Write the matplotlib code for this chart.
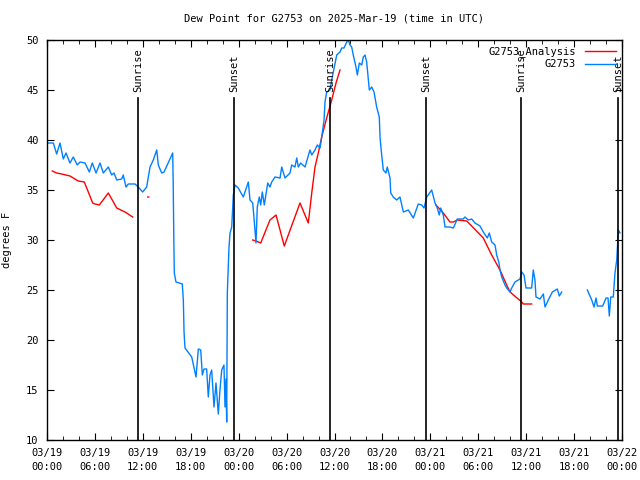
import matplotlib
matplotlib.use("Agg")
from matplotlib import pyplot as plt
from matplotlib.ticker import MultipleLocator
import numpy as np

# hours since 03/19 00:00 UTC, dew point in F
obs_hours = [0.0, 0.79, 1.21, 1.63, 2.04, 2.38, 2.88, 3.29, 3.79, 4.13, 4.76, 5.30, 5.67, 6.14,
             6.64, 7.05, 7.68, 8.10, 8.39, 8.73, 9.35, 9.55, 9.89, 10.18, 11.02, 11.43, 11.98,
             12.48, 12.90, 13.31, 13.74, 13.94, 14.36, 14.65, 15.74, 15.80, 15.88, 15.94, 16.15,
             16.94, 17.07, 17.16, 17.28, 18.12, 18.41, 18.66, 18.95, 19.25, 19.45, 19.66, 19.99,
             20.20, 20.41, 20.62, 20.91, 21.16, 21.32, 21.45, 21.66, 21.88, 22.16, 22.29, 22.41,
             22.50, 22.58, 22.79, 22.92, 23.13, 23.33, 23.54, 23.95, 24.58, 25.21, 25.42, 25.76,
             25.92, 26.17, 26.33, 26.58, 26.76, 26.96, 27.21, 27.64, 27.92, 28.14, 28.55, 29.18,
             29.39, 29.80, 30.43, 30.64, 31.05, 31.27, 31.47, 31.77, 32.31, 32.93, 33.15, 33.56,
             33.85, 34.19, 34.40, 34.69, 34.81, 35.02, 35.44, 35.65, 36.28, 36.69, 36.90, 37.19,
             37.53, 37.73, 37.94, 38.15, 38.35, 38.69, 38.86, 39.11, 39.41, 39.61, 39.82, 40.03,
             40.36, 40.66, 40.95, 41.28, 41.61, 41.70, 41.82, 42.11, 42.45, 42.61, 42.95, 43.04,
             43.36, 43.79, 44.20, 44.62, 45.24, 45.87, 46.49, 46.92, 47.21, 47.55, 48.17, 48.59,
             48.87, 49.12, 49.30, 49.62, 49.84, 50.46, 50.88, 51.38, 52.13, 52.34, 52.76, 53.18,
             53.59, 54.22, 54.63, 55.13, 55.38, 55.68, 56.10, 56.31, 56.60, 56.72, 56.94, 57.35,
             57.56, 57.98, 58.19, 58.60, 59.23, 59.44, 59.73, 59.98, 60.69, 60.89, 61.10, 61.23,
             61.73, 62.15, 62.36, 62.77, 63.28, 63.90, 64.15, 64.45,
             None,
             67.66, 68.21, 68.50, 68.75, 68.91, 69.58, 70.00, 70.25, 70.41, 70.59, 70.91, 71.12,
             71.34, 71.54, 71.75]
obs_dewpt = [39.7, 39.7, 38.6, 39.7, 38.1, 38.7, 37.7, 38.3, 37.5, 37.8, 37.7, 36.8, 37.7, 36.7,
             37.7, 36.7, 37.3, 36.5, 36.7, 36.0, 36.1, 36.5, 35.3, 35.6, 35.6, 35.3, 34.8,
             35.3, 37.3, 38.0, 39.0, 37.5, 36.7, 36.8, 38.7, 35.8, 30.0, 26.7, 25.8,
             25.6, 24.0, 20.8, 19.2, 18.3, 17.2, 16.3, 19.1, 19.0, 16.5, 17.1, 17.1,
             14.3, 16.5, 17.0, 13.3, 15.7, 14.0, 12.6, 15.0, 17.0, 17.5, 13.3, 16.1,
             11.8, 24.7, 29.3, 30.7, 31.3, 34.5, 35.5, 35.2, 34.3, 35.8, 34.0, 33.7,
             32.2, 29.7, 33.3, 34.3, 33.5, 34.8, 33.5, 35.7, 35.3, 35.8, 36.3, 36.2,
             37.3, 36.2, 36.7, 37.5, 37.3, 38.2, 37.3, 37.7, 37.3, 39.0, 38.5, 39.0,
             39.5, 39.2, 40.3, 42.0, 43.8, 44.8, 45.0, 46.0, 48.5, 48.8, 49.2, 49.2,
             49.8, 50.0, 49.5, 49.3, 48.5, 47.3, 46.5, 47.7, 47.5, 48.3, 48.5, 47.8,
             45.0, 45.3, 44.8, 43.3, 42.3, 40.3, 39.2, 37.0, 36.7, 37.3, 36.2, 34.7,
             34.3, 34.0, 34.3, 32.8, 33.0, 32.2, 33.6, 33.5, 33.2, 34.3, 35.0, 33.7,
             33.2, 32.5, 33.2, 32.5, 31.3, 31.3, 31.2, 32.1, 32.1, 32.3, 32.0, 32.1,
             31.7, 31.4, 30.8, 30.2, 30.7, 29.8, 29.5, 28.5, 27.7, 27.0, 26.3, 25.5,
             25.2, 24.8, 25.2, 25.8, 26.1, 26.8, 26.5, 25.2, 25.2, 27.0, 26.0, 24.3,
             24.1, 24.6, 23.3, 24.0, 24.8, 25.1, 24.4, 24.8,
             None,
             25.0, 24.0, 23.3, 24.2, 23.4, 23.4, 24.2, 24.2, 22.4, 24.3, 24.3, 26.7,
             28.0, 31.0, 30.7]

ana_hours = [0.66, 1.21, 1.84, 2.88, 3.29, 3.92, 4.67, 5.17, 5.72, 6.01, 6.55, 7.68, 8.73, 9.77,
             10.73, None, 12.62, 12.74, None,
             25.76, 26.17, 26.76, 27.92, 28.68, 29.71, 31.68, 32.72, 33.15, 33.56, 33.97, 34.40,
             35.02, 35.65, 36.19, 36.69, None,
             48.71, 49.62, 50.46, 50.88, 51.38, 52.56, 54.63, 55.68, 56.72, 57.56, 57.98, 59.44,
             59.63, 60.69]
ana_dewpt = [36.9, 36.7, 36.6, 36.4, 36.2, 35.9, 35.8, 34.8, 33.7, 33.6, 33.5, 34.7, 33.2, 32.8,
             32.3, None, 34.3, 34.3, None,
             30.0, 29.9, 29.7, 32.0, 32.5, 29.4, 33.7, 31.7, 34.7, 37.3, 38.7, 40.3,
             42.2, 44.0, 45.7, 47.0, None,
             33.5, 32.7, 31.8, 31.8, 32.0, 31.9, 30.2, 28.5, 27.0, 25.5, 24.8, 23.8,
             23.6, 23.6]

sun_hours = [11.39, 23.42, 35.44, 47.46, 59.35, 71.50]
sun_labels = ["Sunrise", "Sunset", "Sunrise", "Sunset", "Sunrise", "Sunset"]

tick_labels = ["03/19\n00:00", "03/19\n06:00", "03/19\n12:00", "03/19\n18:00",
               "03/20\n00:00", "03/20\n06:00", "03/20\n12:00", "03/20\n18:00",
               "03/21\n00:00", "03/21\n06:00", "03/21\n12:00", "03/21\n18:00",
               "03/22\n00:00"]

def to_arr(v):
    return np.array([np.nan if a is None else a for a in v], dtype=float)

plt.rcParams['font.family'] = 'DejaVu Sans Mono'
plt.rcParams['font.size'] = 7.5

fig = plt.figure(figsize=(6.4, 4.8), dpi=100)
ax = fig.add_axes([47/640, 40/480, 575/640, 400/480])

ax.plot(to_arr(ana_hours), to_arr(ana_dewpt), color='#ff0000', lw=1, label='G2753_Analysis')
ax.plot(to_arr(obs_hours), to_arr(obs_dewpt), color='#0080ff', lw=1, label='G2753')

# sunrise / sunset markers
for h, lab in zip(sun_hours, sun_labels):
    ax.plot([h, h], [10, 44.2], color='black', lw=1.2)
    ax.text(h, 44.8, lab, rotation=90, ha='center', va='bottom', fontsize=7.5)

ax.set_xlim(0, 72)
ax.set_ylim(10, 50)
ax.set_xticks(np.arange(0, 73, 6))
ax.set_xticklabels(tick_labels, linespacing=1.5)
ax.xaxis.set_minor_locator(MultipleLocator(2))
ax.set_yticks(np.arange(10, 51, 5))
ax.tick_params(which='both', direction='in', top=True, right=True)
ax.tick_params(which='major', length=5, pad=6)
ax.tick_params(which='minor', length=3)
for s in ax.spines.values():
    s.set_linewidth(1)

ax.set_ylabel("degrees F", labelpad=10)
ax.set_title("Dew Point for G2753 on 2025-Mar-19 (time in UTC)", fontsize=7.5, pad=13)
ax.legend(loc='upper right', frameon=False, markerfirst=False, handlelength=3,
          borderaxespad=0.2, labelspacing=0.2, fontsize=7.5)

fig.savefig("out.png", dpi=100)
